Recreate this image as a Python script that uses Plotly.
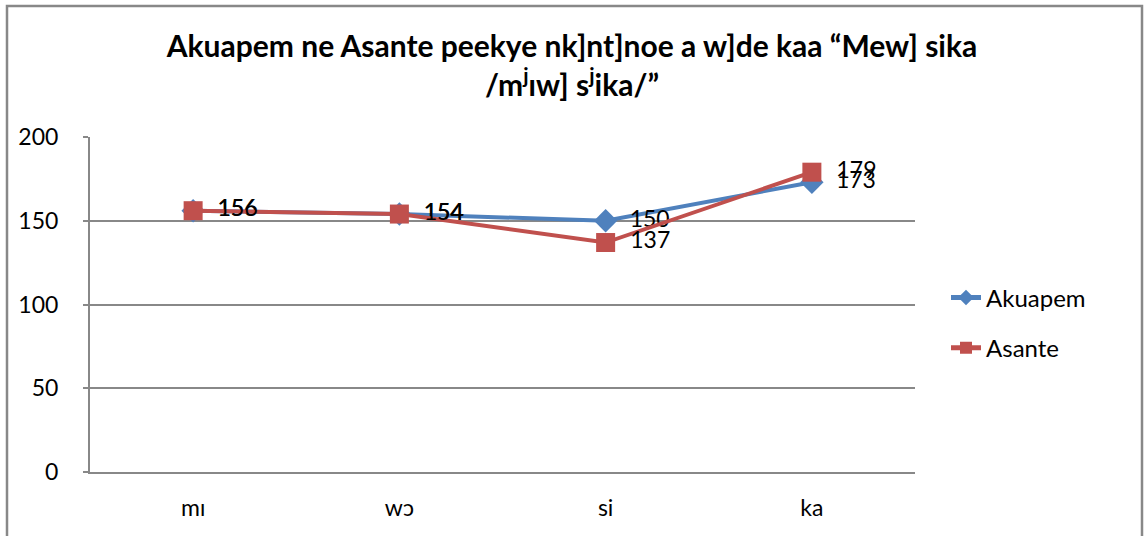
import plotly.graph_objects as go

categories = ["mɪ", "wɔ", "si", "ka"]
akuapem = [156, 154, 150, 173]
asante = [156, 154, 137, 179]

title_text = ("Akuapem ne Asante peekye nk]nt]noe a w]de kaa “Mew] sika"
              "<br>/m<sup>j</sup>ɪw] s<sup>j</sup>ika/”")

font_family = "Lato, Open Sans, sans-serif"
W, H = 1144, 536
ml, mr, mt, mb = 90, 229, 137, 64
pw, ph = W - ml - mr, H - mt - mb

fig = go.Figure()
fig.add_trace(go.Scatter(
    x=categories, y=akuapem, name="Akuapem", mode="lines+markers+text",
    legendgroup="a",
    line={"color": "#4F81BD", "width": 4},
    marker={"symbol": "diamond", "size": 18, "color": "#4F81BD"},
    text=["  " + str(v) for v in akuapem], textposition="middle right",
    textfont={"size": 23, "color": "black"}))
fig.add_trace(go.Scatter(
    x=categories, y=asante, name="Asante", mode="lines+markers+text",
    legendgroup="b",
    line={"color": "#C0504D", "width": 4},
    marker={"symbol": "square", "size": 19, "color": "#C0504D"},
    text=["  " + str(v) for v in asante], textposition="middle right",
    textfont={"size": 23, "color": "black"}))

# outer chart frame (bottom edge is cut off in the reference)
fig.add_shape(type="rect", xref="paper", yref="paper",
              x0=(7 - ml) / pw, x1=(1142 - ml) / pw,
              y0=-(mb + 20) / ph, y1=(H - 6 - mb) / ph,
              line={"color": "#888888", "width": 2.5}, layer="below")

fig.update_layout(
    width=W, height=H,
    margin={"l": ml, "r": mr, "t": mt, "b": mb},
    paper_bgcolor="white", plot_bgcolor="white",
    font={"family": font_family, "size": 23, "color": "black"},
    title={"text": title_text, "x": 0.5, "xanchor": "center",
           "y": 1 - 57 / H, "yanchor": "middle",
           "font": {"size": 30, "family": font_family, "weight": "bold"}},
    showlegend=True,
    legend={"x": (946 - ml) / pw, "y": 0.445, "xanchor": "left", "yanchor": "middle",
            "font": {"size": 24}, "tracegroupgap": 16, "itemsizing": "constant"},
)
fig.update_xaxes(
    type="category", range=[-0.5, 3.5], showgrid=False,
    showline=True, linecolor="#888888", linewidth=2,
    ticks="", ticklabelstandoff=14, tickfont={"size": 23})
fig.update_yaxes(
    range=[0, 200], dtick=50, showgrid=True, gridcolor="#888888", gridwidth=1.5,
    showline=True, linecolor="#888888", linewidth=2,
    ticks="outside", ticklen=5, tickcolor="#888888", tickwidth=2,
    ticklabelstandoff=20, tickfont={"size": 23}, zeroline=False)

fig.write_html("out.html", config={"displayModeBar": False},
               post_script="document.body.style.margin='0';")
